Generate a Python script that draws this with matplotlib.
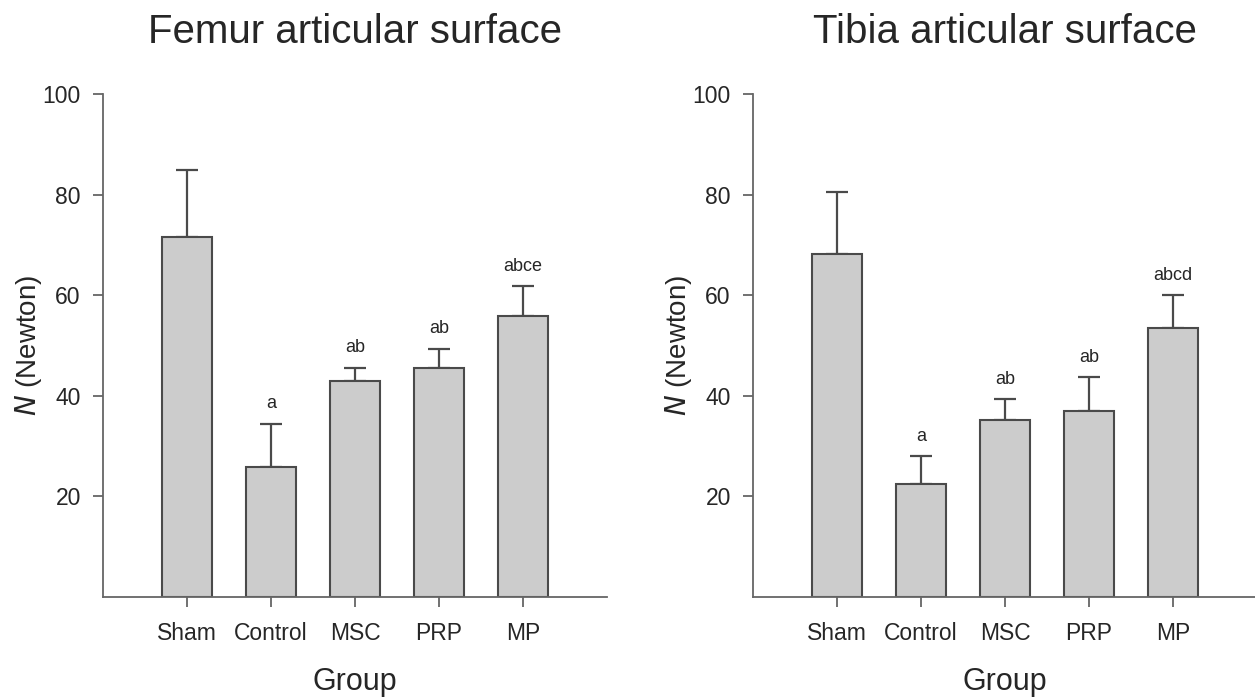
import matplotlib
matplotlib.use("Agg")
import matplotlib.pyplot as plt
import numpy as np

plt.rcParams['font.family'] = ['Liberation Sans', 'DejaVu Sans']

groups = ["Sham", "Control", "MSC", "PRP", "MP"]

femur_means = [71.5, 25.8, 43.0, 45.5, 55.9]
femur_sd = [13.4, 8.6, 2.5, 3.8, 5.9]
femur_letters = ["", "a", "ab", "ab", "abce"]

tibia_means = [68.1, 22.4, 35.2, 37.0, 53.5]
tibia_sd = [12.4, 5.6, 4.1, 6.7, 6.5]
tibia_letters = ["", "a", "ab", "ab", "abcd"]

titles = ["Femur articular surface", "Tibia articular surface"]
yticks = [20, 40, 60, 80, 100]

BAR = "#cccccc"
EDGE = "#4a4a4a"
AXC = "#666666"
TXT = "#262626"

fig = plt.figure(figsize=(12.55, 6.97), dpi=100)
positions = [[0.0821, 0.1435, 0.4016, 0.7216], [0.600, 0.1435, 0.4016, 0.7216]]
datasets = [(femur_means, femur_sd, femur_letters), (tibia_means, tibia_sd, tibia_letters)]

for pos, (means, sd, letters), title in zip(positions, datasets, titles):
    ax = fig.add_axes(pos)
    x = np.arange(1, len(groups) + 1)
    ax.bar(x, means, width=0.6, color=BAR, edgecolor=EDGE, linewidth=1.5, zorder=2)
    ax.errorbar(x, means, yerr=[np.zeros(len(sd)), sd], fmt="none", ecolor=EDGE,
                elinewidth=1.6, capsize=8, capthick=1.6, zorder=1)
    for xi, m, s, lab in zip(x, means, sd, letters):
        if lab:
            ax.annotate(lab, (xi, m + s), xytext=(0, 14.5), textcoords="offset points",
                        ha="center", va="center", fontsize=13, color=TXT)
    ax.set_xlim(0, 6)
    ax.set_ylim(0, 100)
    ax.set_xticks(x)
    ax.set_xticklabels(groups)
    ax.set_yticks(yticks)
    ax.tick_params(axis="both", direction="out", length=7, width=1.3, color=AXC,
                   labelsize=16.5, labelcolor=TXT)
    ax.tick_params(axis="x", pad=11)
    ax.tick_params(axis="y", pad=9)
    for side in ["top", "right"]:
        ax.spines[side].set_visible(False)
    for side in ["left", "bottom"]:
        ax.spines[side].set_color(AXC)
        ax.spines[side].set_linewidth(1.3)
    ax.set_xlabel("Group", fontsize=22, color=TXT, labelpad=16)
    ax.set_ylabel(r"$\it{N}$ (Newton)", fontsize=20, color=TXT, labelpad=-1)
    ax.set_title(title, fontsize=29, color=TXT, pad=36.5)

fig.savefig("out.png", dpi=100)
